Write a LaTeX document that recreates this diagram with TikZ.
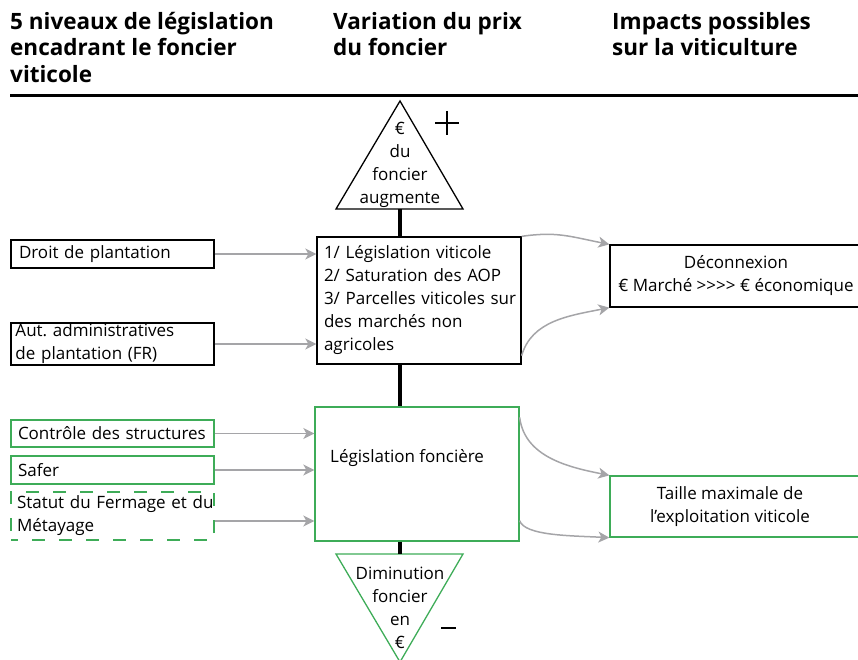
\documentclass[tikz,border=0pt]{standalone}
\usepackage{fontspec}
\setmainfont{Open Sans}
\usetikzlibrary{arrows.meta}
\definecolor{vert}{RGB}{62,172,88}
\definecolor{gris}{RGB}{165,165,168}
\tikzset{
  cadre/.style={draw, line width=1.3pt, inner sep=0pt},
  cadrevert/.style={cadre, draw=vert},
  corps/.style={font=\fontsize{17}{23}\selectfont},
  titre/.style={font=\fontsize{22.5}{26.5}\selectfont\bfseries, anchor=north west, inner sep=0pt, align=left},
  fleche/.style={draw=gris, line width=1.5pt, -{Stealth[length=11pt,width=11pt,inset=3pt]}},
  tige/.style={line width=4pt},
}
\begin{document}
\frenchspacing
\begin{tikzpicture}[x=1pt,y=-1pt]
    \useasboundingbox (0,0) rectangle (858,660);
    % titres
    \node[titre] (t-niveaux) at (10,12) {5 niveaux de législation\\encadrant le foncier\\viticole};
    \node[titre] (t-prix) at (333,12) {Variation du prix\\du foncier};
    \node[titre] (t-impacts) at (612,12) {Impacts possibles\\sur la viticulture};
    \draw[line width=3pt] (10,96)--(858,96);
    % triangle haut
    \coordinate (hausse-base) at (400,209);
    \draw[line width=1.3pt] (336,209)--(400,101)--(463,209)--cycle;
    \node[corps, align=center, inner sep=0pt] (hausse) at (400,165) {€\\du\\foncier\\augmente};
    \draw[line width=2.3pt] (435,123)--(459,123) (447,111)--(447,135);
    % boites de gauche
    \node[cadre, corps, minimum width=203pt, minimum height=28pt, text width=187pt, align=left] (droit) at (112.5,254) {Droit de plantation};
    \node[cadre, corps, minimum width=203pt, minimum height=42pt, text width=194pt, align=left] (aut) at (112.5,344) {Aut. administratives\\de plantation (FR)};
    \node[cadrevert, corps, minimum width=203pt, minimum height=27pt, text width=189pt, align=left] (controle) at (112.5,433.5) {Contrôle des structures};
    \node[cadrevert, corps, minimum width=203pt, minimum height=28pt, text width=189pt, align=left] (safer) at (112.5,470) {Safer};
    \node[cadrevert, corps, dash pattern=on 13pt off 14pt, dash phase=6pt, minimum width=203pt, minimum height=48pt, text width=191pt, align=left] (statut) at (112.5,516) {\mbox{Statut du Fermage et du}\\Métayage};
    % boites centrales
    \node[cadre, corps, minimum width=204pt, minimum height=127pt, text width=190pt, align=left] (viticole) at (419,300.5) {1/ Législation viticole\\2/ Saturation des AOP\\\mbox{3/ Parcelles viticoles sur}\\des marchés non\\agricoles};
    \node[cadrevert, minimum width=204pt, minimum height=134pt] (fonciere) at (417,474) {};
    \node[corps, anchor=west, inner sep=0pt] (fonciere-texte) at (330,458) {Législation foncière};
    % triangle bas
    \coordinate (baisse-base) at (400,554);
    \draw[vert, line width=1.3pt] (336,554)--(400,662)--(463,554)--cycle;
    \node[corps, align=center, inner sep=0pt] (baisse) at (400,608) {Diminution\\foncier\\en\\€};
    \draw[line width=2.3pt] (441,628)--(456,628);
    % boites de droite
    \node[cadre, corps, minimum width=252pt, minimum height=62pt, align=center] (deconnexion) at (736,276) {Déconnexion\\€ Marché >{}>{}>{}> € économique};
    \node[cadrevert, corps, minimum width=252pt, minimum height=61pt, align=center] (taille) at (736,506.5) {\hspace*{-12pt}Taille maximale de\\\hspace*{-12pt}l’exploitation viticole};
    % liaisons
    \draw[tige] (hausse-base) -- (hausse-base |- viticole.north);
    \draw[tige] (viticole.south -| hausse-base) -- (fonciere.north -| hausse-base);
    \draw[tige] (fonciere.south -| baisse-base) -- (baisse-base);
    \draw[fleche] (droit.east) -- (droit.east -| viticole.west);
    \draw[fleche] (aut.east) -- (aut.east -| viticole.west);
    \draw[fleche] (controle.east) -- (controle.east -| fonciere.west);
    \draw[fleche] (safer.east) -- (safer.east -| fonciere.west);
    \draw[fleche] ([yshift=-5pt]statut.east) -- ([yshift=-5pt]statut.east -| fonciere.west);
    \draw[fleche] (viticole.north east) .. controls +(35,-5) and +(-40,-8) .. (deconnexion.north west);
    \draw[fleche] ([yshift=9pt]viticole.south east) .. controls +(10,-35) and +(-40,8) .. (deconnexion.south west);
    \draw[fleche] ([yshift=-11pt]fonciere.north east) .. controls +(5,40) and +(-40,-8) .. (taille.north west);
    \draw[fleche] ([yshift=21pt]fonciere.south east) .. controls +(5,15) and +(-40,-2) .. (taille.south west);
\end{tikzpicture}
\end{document}
